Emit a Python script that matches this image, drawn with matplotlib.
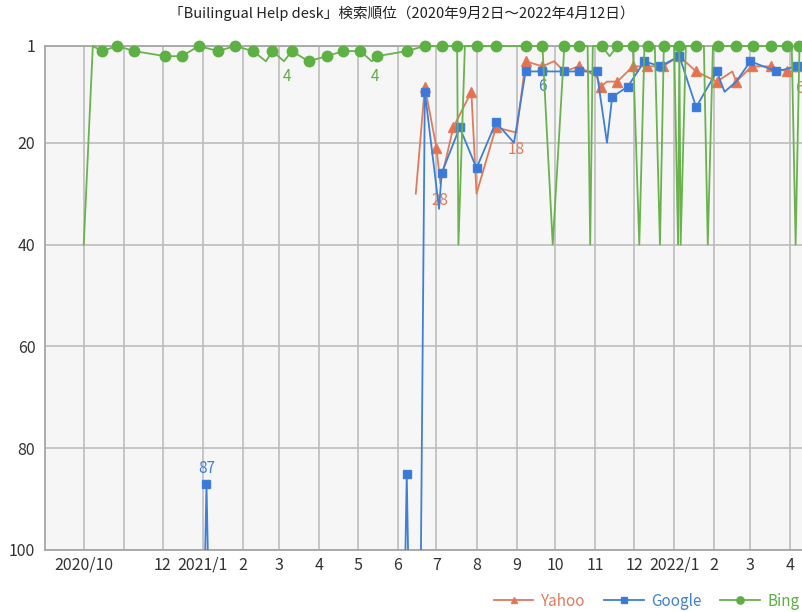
import pandas as pd
import numpy as np
import matplotlib
matplotlib.use('Agg')
import matplotlib.pyplot as plt

plt.rcParams['font.family'] = ['Noto Sans CJK JP', 'DejaVu Sans']

title = '「Builingual Help desk」検索順位（2020年9月2日～2022年4月12日）'

# Bing ranking (40 = out of range)
bing_dates = ['2020-10-01', '2020-10-08', '2020-10-15', '2020-10-27', '2020-11-09', '2020-12-03',
              '2020-12-16', '2020-12-29', '2021-01-13', '2021-01-26', '2021-02-09', '2021-02-19',
              '2021-02-24', '2021-03-05', '2021-03-11', '2021-03-24', '2021-04-07', '2021-04-20',
              '2021-05-03', '2021-05-12', '2021-05-16', '2021-06-08', '2021-06-22', '2021-07-05',
              '2021-07-17', '2021-07-18', '2021-07-23', '2021-08-01', '2021-08-16', '2021-09-08',
              '2021-09-21', '2021-09-29', '2021-10-08', '2021-10-19', '2021-10-26', '2021-10-28',
              '2021-10-30', '2021-11-06', '2021-11-12', '2021-11-18', '2021-11-30', '2021-12-05',
              '2021-12-09', '2021-12-12', '2021-12-17', '2021-12-21', '2021-12-24', '2022-01-01',
              '2022-01-04', '2022-01-05', '2022-01-06', '2022-01-10', '2022-01-18', '2022-01-24',
              '2022-01-27', '2022-01-31', '2022-02-04', '2022-02-18', '2022-03-03', '2022-03-17',
              '2022-03-29', '2022-04-02', '2022-04-05', '2022-04-08', '2022-04-12']
bing_rank = [40, 1, 2, 1, 2, 3,
             3, 1, 2, 1, 2, 4,
             2, 4, 2, 4, 3, 2,
             2, 4, 3, 2, 1, 1,
             1, 40, 1, 1, 1, 1,
             1, 40, 1, 1, 1, 40,
             1, 1, 3, 1, 1, 40,
             1, 1, 1, 40, 1, 1,
             40, 1, 40, 1, 1, 1,
             40, 1, 1, 1, 1, 1,
             1, 1, 40, 1, 1]

# Google ranking (100 = out of range, None = no data)
google_dates = ['2021-01-03', '2021-01-04', '2021-01-05', '2021-02-01', '2021-06-07', '2021-06-08',
                '2021-06-09', '2021-06-14', '2021-06-19', '2021-06-22', '2021-07-03', '2021-07-05',
                '2021-07-19', '2021-08-01', '2021-08-16', '2021-08-30', '2021-09-08', '2021-09-21',
                '2021-10-08', '2021-10-19', '2021-11-02', '2021-11-10', '2021-11-14', '2021-11-26',
                '2021-12-09', '2021-12-21', '2022-01-05', '2022-01-18', '2022-02-03', '2022-02-09',
                '2022-02-18', '2022-03-01', '2022-03-21', '2022-04-06', '2022-04-12']
google_rank = [100, 87, 100, None, 100, 85,
               100, None, 100, 10, 33, 26,
               17, 25, 16, 20, 6, 6,
               6, 6, 6, 20, 11, 9,
               4, 5, 3, 13, 6, 10,
               8, 4, 6, 5, 5]

# Yahoo ranking (30 = out of range)
yahoo_dates = ['2021-06-15', '2021-06-22', '2021-07-01', '2021-07-04', '2021-07-14', '2021-07-20',
               '2021-07-28', '2021-08-01', '2021-08-16', '2021-09-01', '2021-09-08', '2021-09-21',
               '2021-09-30', '2021-10-08', '2021-10-19', '2021-11-02', '2021-11-05', '2021-11-10',
               '2021-11-18', '2021-11-30', '2021-12-11', '2021-12-23', '2022-01-05', '2022-01-18',
               '2022-02-03', '2022-02-15', '2022-02-18', '2022-03-02', '2022-03-17', '2022-03-29',
               '2022-04-08', '2022-04-12']
yahoo_rank = [30, 9, 21, 28, 17, 14,
              10, 30, 17, 18, 4, 5,
              4, 6, 5, 7, 9, 8,
              8, 5, 5, 5, 3, 6,
              8, 6, 8, 5, 5, 6,
              6, 5]

month_labels = ['2020/10', '', '12', '2021/1', '2', '3', '4', '5', '6', '7', '8', '9',
                '10', '11', '12', '2022/1', '2', '3', '4']

bing_d = pd.to_datetime(bing_dates)
google_d = pd.to_datetime(google_dates)
yahoo_d = pd.to_datetime(yahoo_dates)
google_r = np.array([np.nan if v is None else v for v in google_rank], dtype=float)

# points drawn without markers
bing_nomark = [0, 1, 11, 13, 19, 25, 26, 31, 34, 35, 36, 38, 41, 42, 44, 45, 47, 48, 50, 51, 53, 54, 55, 61, 62]
google_nomark = [0, 2, 3, 4, 6, 7, 8, 10, 15, 21, 29, 30]
yahoo_nomark = [0, 3, 5, 7, 9, 12, 13, 15, 17, 25, 30]
bing_mark = [i for i in range(len(bing_rank)) if i not in bing_nomark]
google_mark = [i for i in range(len(google_rank)) if i not in google_nomark]
yahoo_mark = [i for i in range(len(yahoo_rank)) if i not in yahoo_nomark]

c_yahoo = '#E27A5C'
c_google = '#3F7FD6'
c_bing = '#5DB043'

fig = plt.figure(figsize=(8.02, 6.12), dpi=100)
ax = fig.add_axes([45 / 802, 62 / 612, 770 / 802, 504 / 612])
ax.set_facecolor('#F6F6F6')

ax.plot(yahoo_d, yahoo_rank, color=c_yahoo, lw=1.3, marker='^', ms=7, mec=c_yahoo, mfc='#E8704C',
        markevery=yahoo_mark, label='Yahoo', zorder=3)
ax.plot(google_d, google_r, color=c_google, lw=1.3, marker='s', ms=6, mec=c_google, mfc='#3A78DA',
        markevery=google_mark, label='Google', zorder=4)
ax.plot(bing_d, bing_rank, color='#6AB24E', lw=1.3, marker='o', ms=7.5, mec=c_bing, mfc=c_bing,
        markevery=bing_mark, label='Bing', zorder=5, clip_on=False)

# data labels
ax.annotate('87', (google_d[1], google_r[1]), xytext=(0, 11), textcoords='offset points',
            ha='center', va='center', color=c_google, fontsize=11)
ax.annotate('6', (google_d[17], google_r[17]), xytext=(0, -11), textcoords='offset points',
            ha='center', va='center', color=c_google, fontsize=11)
for i in [13, 19]:
    ax.annotate('4', (bing_d[i], bing_rank[i]), xytext=(2, -11), textcoords='offset points',
                ha='center', va='center', color=c_bing, fontsize=11)
for i, t in [(3, '28'), (9, '18'), (30, '6')]:
    ax.annotate(t, (yahoo_d[i], yahoo_rank[i]), xytext=(0, -12), textcoords='offset points',
                ha='center', va='center', color=c_yahoo, fontsize=11)

ax.set_ylim(100, 1)
ax.set_yticks([1, 20, 40, 60, 80, 100])
ax.set_xlim(pd.Timestamp('2020-09-01'), pd.Timestamp('2022-04-20'))
months = pd.date_range('2020-10-01', '2022-04-01', freq='MS')
ax.set_xticks(months)
ax.set_xticklabels(month_labels)
ax.tick_params(length=0, labelsize=11.5, colors='#333333')
ax.tick_params(axis='y', pad=7)
ax.tick_params(axis='x', pad=5)
ax.grid(True, color='#BDBDBD', lw=1.2)
ax.set_axisbelow(True)
for s in ['left', 'bottom', 'top', 'right']:
    ax.spines[s].set_color('#A6A6A6')
    ax.spines[s].set_linewidth(1.3)

fig.text(402 / 802, 1 - 13 / 612, title, ha='center', va='center', fontsize=10.5, color='#222222')

leg = fig.legend(loc='center left', bbox_to_anchor=(486 / 802, 1 - 601 / 612), ncol=3, frameon=False,
                 fontsize=11, handlelength=2.6, handletextpad=0.5, columnspacing=1.2,
                 borderpad=0, markerscale=0.7)
for t, c in zip(leg.get_texts(), [c_yahoo, c_google, c_bing]):
    t.set_color(c)

fig.savefig('out.png', dpi=100)
